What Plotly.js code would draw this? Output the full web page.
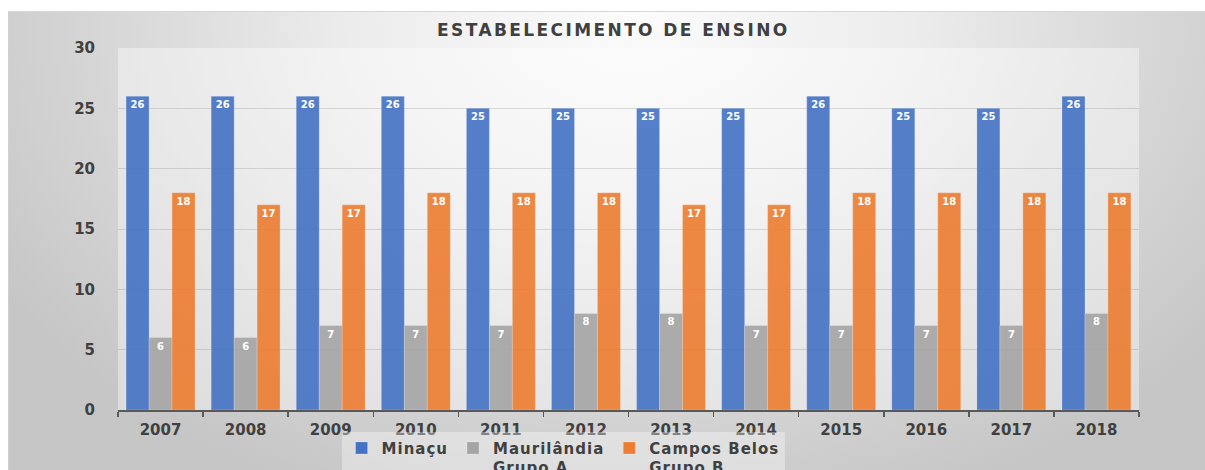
<!DOCTYPE html>
<html>
<head>
<meta charset="utf-8">
<script src="https://cdn.plot.ly/plotly-3.0.1.min.js"></script>
<style>
  html, body { margin: 0; padding: 0; background: #ffffff; }
  #wrap { position: relative; width: 1205px; height: 470px; overflow: hidden; }
  #bg {
    position: absolute; left: 8px; top: 11px; width: 1197px; height: 459px;
    border-top: 1px solid #d6d6d6; border-left: 1px solid #d0d0d0;
    background: radial-gradient(ellipse 62% 115% at 52% 0%, #fcfcfc 0%, #ececec 38%, #d6d6d6 72%, #c6c6c6 100%);
  }
  #chart { position: absolute; left: 0; top: 0; width: 1205px; height: 470px; }
  .gtitle { letter-spacing: 2.4px; }
  .legendtext { letter-spacing: 1px; }
</style>
</head>
<body>
<div id="wrap">
  <div id="bg"></div>
  <div id="chart"></div>
</div>
<script>
const years = ['2007','2008','2009','2010','2011','2012','2013','2014','2015','2016','2017','2018'];
const minacu = [26,26,26,26,25,25,25,25,26,25,25,26];
const maurilandia = [6,6,7,7,7,8,8,7,7,7,7,8];
const camposBelos = [18,17,17,18,18,18,17,17,18,18,18,18];
const seriesNames = ['Minaçu', 'Maurilândia<br>Grupo A', 'Campos Belos<br>Grupo B'];
const seriesColors = ['#4472C4', '#A5A5A5', '#ED7D31'];
const seriesValues = [minacu, maurilandia, camposBelos];
const yTicks = [0,5,10,15,20,25,30];

const traces = seriesValues.map((vals, i) => ({
  type: 'bar',
  name: seriesNames[i],
  x: years,
  y: vals,
  text: vals.map(String),
  textposition: 'inside',
  insidetextanchor: 'end',
  constraintext: 'none',
  textangle: 0,
  insidetextfont: { family: 'DejaVu Sans', size: 10, color: '#ffffff', weight: 'bold' },
  marker: { color: seriesColors[i], opacity: 0.9, line: { color: 'rgba(255,255,255,0.35)', width: 0.6 } },
  hoverinfo: 'x+y'
}));

const layout = {
  width: 1205,
  height: 470,
  paper_bgcolor: 'rgba(0,0,0,0)',
  plot_bgcolor: 'rgba(255,255,255,0.4)',
  margin: { l: 118, r: 66, t: 48, b: 60, autoexpand: false },
  barmode: 'group',
  bargap: 0.19,
  bargroupgap: 0,
  title: {
    text: 'ESTABELECIMENTO DE ENSINO',
    x: 0.509, xref: 'container', xanchor: 'center',
    y: 0.936, yref: 'container', yanchor: 'middle',
    font: { family: 'DejaVu Sans', size: 17, color: '#404040', weight: 'bold' }
  },
  xaxis: {
    type: 'category',
    showline: true, linecolor: '#595959', linewidth: 1.5,
    ticks: 'outside', tickson: 'boundaries', ticklen: 5, tickwidth: 1.5, tickcolor: '#595959',
    tickfont: { family: 'DejaVu Sans', size: 15, color: '#404040', weight: 'bold' },
    showgrid: false, zeroline: false,
    ticklabelstandoff: 5
  },
  yaxis: {
    range: [0, 30],
    tickvals: yTicks,
    ticktext: yTicks.map(String),
    showline: false, zeroline: false,
    showgrid: true, gridcolor: 'rgba(110,110,110,0.22)', gridwidth: 1,
    ticks: '',
    tickfont: { family: 'DejaVu Sans', size: 15, color: '#404040', weight: 'bold' },
    ticklabelstandoff: 22
  },
  legend: {
    orientation: 'h',
    x: 0.219, xanchor: 'left',
    y: -0.06, yanchor: 'top',
    valign: 'top',
    tracegroupgap: 0,
    bgcolor: 'rgba(255,255,255,0.35)',
    borderwidth: 0,
    font: { family: 'DejaVu Sans', size: 15, color: '#404040', weight: 'bold' },
    traceorder: 'normal',
    itemclick: false
  },
  showlegend: true
};

Plotly.newPlot('chart', traces, layout, { displayModeBar: false, staticPlot: true });
</script>
</body>
</html>
